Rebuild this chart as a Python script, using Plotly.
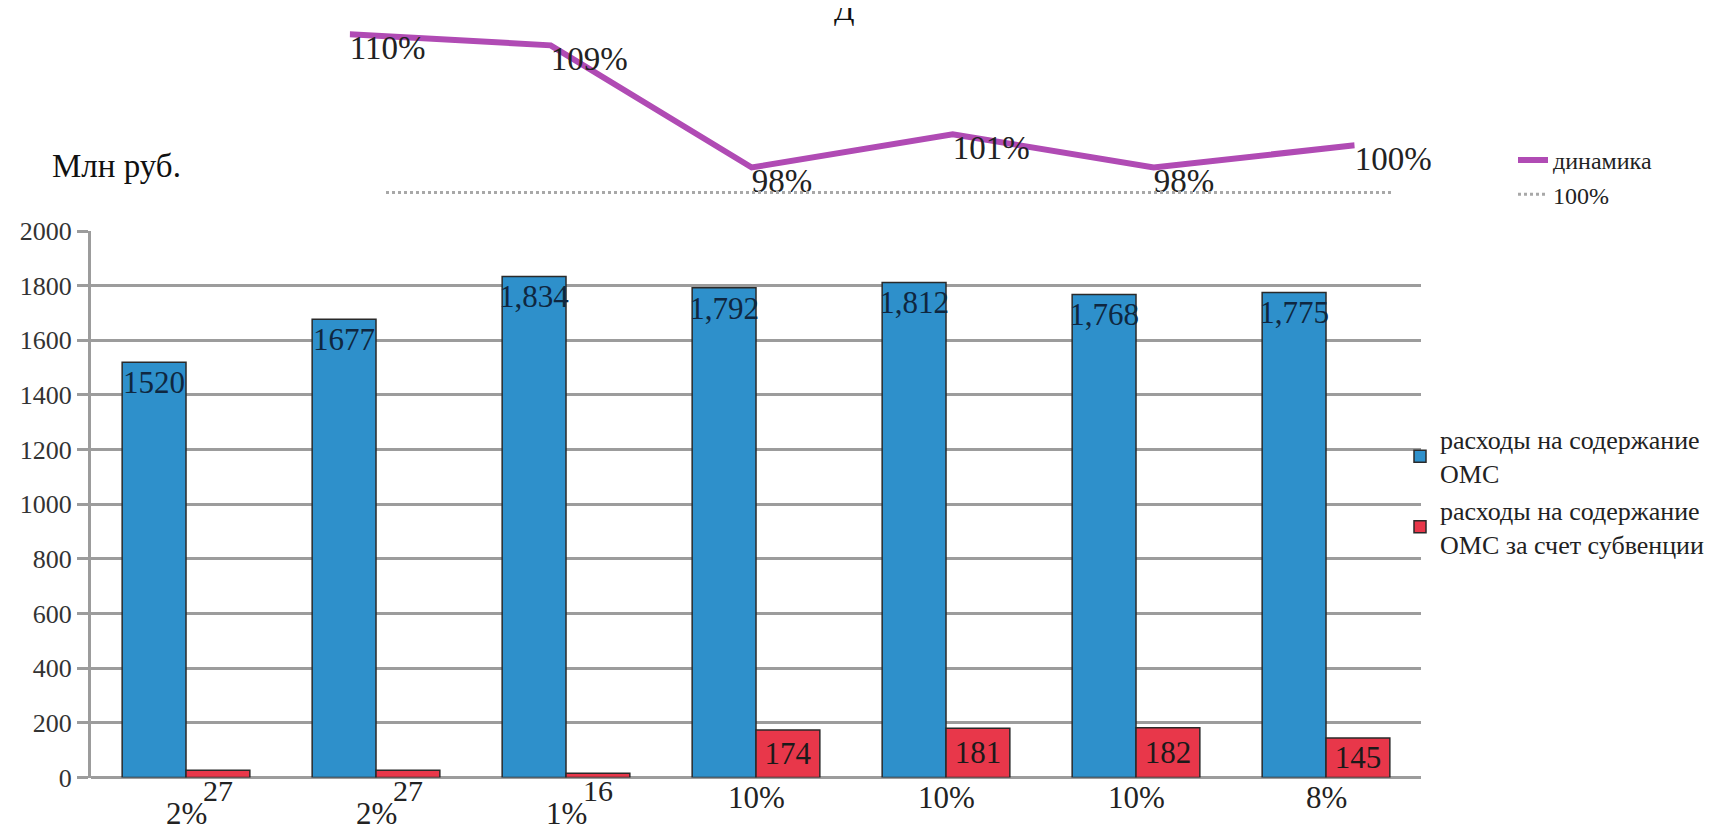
import plotly.graph_objects as go

# ---- data ----
categories = ["1", "2", "3", "4", "5", "6", "7"]
oms_total = [1520, 1677, 1834, 1792, 1812, 1768, 1775]
oms_total_labels = ["1520", "1677", "1,834", "1,792", "1,812", "1,768", "1,775"]
oms_subv = [27, 27, 16, 174, 181, 182, 145]
share_labels = ["2%", "2%", "1%", "10%", "10%", "10%", "8%"]

dyn_x = [0, 1, 2, 3, 4, 5]
dyn_values = [110, 109, 98, 101, 98, 100]
dyn_labels = ["110%", "109%", "98%", "101%", "98%", "100%"]
ref_x = [0, 1]
ref_values = [1, 1]

W, H = 1721, 838
SERIF = "Liberation Serif"
BLUE = "#2E90CB"
RED = "#E8374A"
PURPLE = "#B04BB4"
GRID = "#9C9C9C"


def px_x(p):
    return p / W


def px_y(p):
    return 1 - p / H


fig = go.Figure()

fig.add_trace(go.Bar(
    x=categories, y=oms_total, name="расходы на содержание<br>ОМС",
    marker=dict(color=BLUE, line=dict(color="#2a2a2a", width=1.5)),
    text=oms_total_labels, textposition="inside", insidetextanchor="end",
    textangle=0, constraintext="none",
    textfont=dict(family=SERIF, size=31, color="#0f2740"),
    xaxis="x", yaxis="y", legend="legend",
))
red_text = [str(v) if v >= 100 else "" for v in oms_subv]
fig.add_trace(go.Bar(
    x=categories, y=oms_subv, name="расходы на содержание<br>ОМС за счет субвенции",
    marker=dict(color=RED, line=dict(color="#2a2a2a", width=1.5)),
    text=red_text, textposition="inside", insidetextanchor="middle",
    textangle=0, constraintext="none",
    textfont=dict(family=SERIF, size=31, color="#1a1a1a"),
    xaxis="x", yaxis="y", legend="legend",
))

fig.add_trace(go.Scatter(
    x=dyn_x, y=dyn_values, name="динамика", mode="lines+text",
    line=dict(color=PURPLE, width=6),
    text=dyn_labels, textposition="bottom right",
    textfont=dict(family=SERIF, size=33, color="#222222"),
    xaxis="x2", yaxis="y2", legend="legend2", cliponaxis=False,
))
fig.add_trace(go.Scatter(
    x=ref_x, y=ref_values, name="100%", mode="lines",
    line=dict(color="#A8A8A8", width=3, dash="dot"),
    xaxis="x3", yaxis="y3", legend="legend2",
))

annotations = []
for i, (v, s) in enumerate(zip(oms_subv, share_labels)):
    small = v < 100
    if small:
        annotations.append(dict(
            x=i, y=0, xref="x", yref="y", text=str(v), showarrow=False,
            xshift=32, yshift=-13, yanchor="middle",
            font=dict(family=SERIF, size=30, color="#222222")))
    annotations.append(dict(
        x=i, y=0, xref="x", yref="y", text=s, showarrow=False,
        yshift=-36 if small else -20, yanchor="middle",
        font=dict(family=SERIF, size=31, color="#222222")))

annotations.append(dict(
    x=px_x(42), y=px_y(149), xref="paper", yref="paper", text="Млн руб.",
    showarrow=False, xanchor="left", yanchor="middle",
    font=dict(family=SERIF, size=33, color="#111111")))
annotations.append(dict(
    x=px_x(836), y=px_y(-13), xref="paper", yref="paper", text="Д",
    showarrow=False, xanchor="center", yanchor="middle",
    font=dict(family=SERIF, size=30, color="#111111")))

# line axis mapping: 110 at py 12.7, 98 at py 150.7
ppu = (150.7 - 12.7) / 12
y2_top = 110 + 12.7 / ppu
y2_bot = 98 - (170 - 150.7) / ppu

fig.update_layout(
    width=W, height=H, autosize=False,
    margin=dict(l=0, r=0, t=0, b=0),
    paper_bgcolor="white", plot_bgcolor="rgba(0,0,0,0)",
    barmode="group", bargap=0.328, bargroupgap=0,
    annotations=annotations,
    xaxis=dict(domain=[px_x(83), px_x(1413)], type="category",
               showticklabels=False, showgrid=False, zeroline=False,
               showline=False, ticks=""),
    yaxis=dict(domain=[px_y(782.7), px_y(216.5)], range=[0, 2000],
               tickvals=list(range(0, 2001, 200)),
               tickfont=dict(family=SERIF, size=26, color="#333333"),
               showgrid=True, gridcolor=GRID, gridwidth=3,
               zeroline=True, zerolinecolor=GRID, zerolinewidth=3,
               showline=True, linecolor=GRID, linewidth=3,
               ticks="outside", ticklen=11, tickcolor=GRID, tickwidth=3),
    xaxis2=dict(domain=[px_x(341.7), px_x(1346.7)], range=[0, 5], anchor="y2",
                visible=False),
    yaxis2=dict(domain=[px_y(170), 1], range=[y2_bot, y2_top], anchor="x2",
                visible=False),
    xaxis3=dict(domain=[px_x(378), px_x(1383)], range=[0, 1], anchor="y3",
                visible=False),
    yaxis3=dict(domain=[px_y(186.7), px_y(166.7)], range=[0, 2], anchor="x3",
                visible=False),
    legend=dict(x=px_x(1392), y=px_y(408), xanchor="left", yanchor="top",
                font=dict(family=SERIF, size=26, color="#222222"),
                bgcolor="rgba(0,0,0,0)", tracegroupgap=0),
    legend2=dict(x=px_x(1505), y=px_y(120), xanchor="left", yanchor="top",
                 font=dict(family=SERIF, size=24, color="#222222"),
                 bgcolor="rgba(0,0,0,0)", tracegroupgap=0),
    showlegend=True,
)

fig.write_html("out.html")
